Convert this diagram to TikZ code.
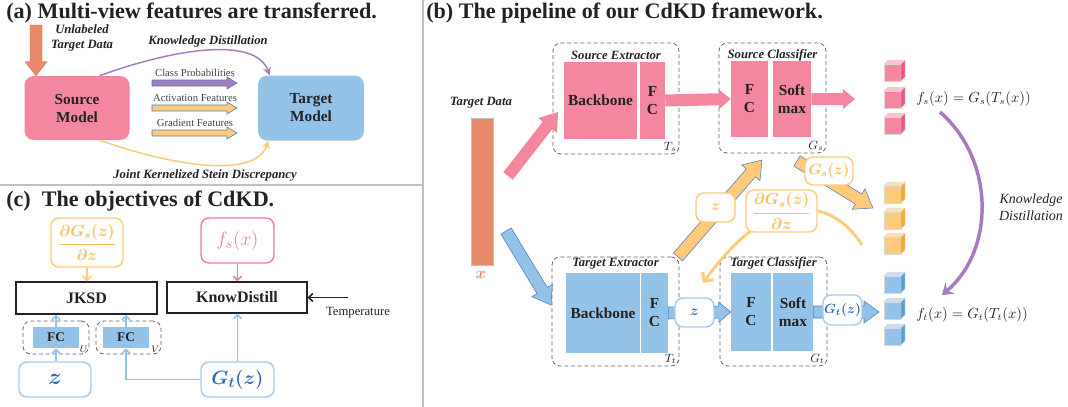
\documentclass[tikz,border=0pt]{standalone}
\usepackage{amsmath}
\usepackage{fontspec}
\setmainfont{Liberation Serif}
\usetikzlibrary{arrows.meta,positioning,calc}
\definecolor{cdpink}{HTML}{F4879F}
\definecolor{cdpinkline}{HTML}{F07C98}
\definecolor{cdpinktop}{HTML}{FAC3CF}
\definecolor{cdpinkside}{HTML}{E95A7E}
\definecolor{cdblue}{HTML}{94C3E9}
\definecolor{cdblueline}{HTML}{A6CCEE}
\definecolor{cdbluetop}{HTML}{C6E0F5}
\definecolor{cdblueside}{HTML}{5B9FD8}
\definecolor{cdbluetext}{HTML}{2F6DB3}
\definecolor{cdorange}{HTML}{E8896A}
\definecolor{cdyellow}{HTML}{FFCA7A}
\definecolor{cdyellowtop}{HTML}{FFE1AE}
\definecolor{cdyellowside}{HTML}{F5A936}
\definecolor{cdyellowline}{HTML}{FFCB7D}
\definecolor{cdyellowtext}{HTML}{FBBE5E}
\definecolor{cdpurple}{HTML}{A57BBF}
\definecolor{cdedge}{HTML}{4A7EBB}
\definecolor{cdtext}{HTML}{222222}
\definecolor{cdgray}{HTML}{666666}
\definecolor{cdframe}{HTML}{C0C0C0}

% block arrow: [style]{from}{to}{shaft half width}{head half width}{head length}, sizes in px
\newcommand{\blockarrow}[6][]{%
  \pgfmathsetmacro\baS{#4*0.75}%
  \pgfmathsetmacro\baH{#5*0.75}%
  \pgfmathsetmacro\baL{#6*0.75}%
  \coordinate (ba-a) at (#2);
  \coordinate (ba-b) at (#3);
  \coordinate (ba-h) at ($(ba-b)!\baL pt!(ba-a)$);
  \filldraw[#1] ($(ba-a)!\baS pt!90:(ba-b)$) -- ($(ba-h)!\baS pt!90:(ba-b)$)
    -- ($(ba-h)!\baH pt!90:(ba-b)$) -- (ba-b)
    -- ($(ba-h)!\baH pt!-90:(ba-b)$) -- ($(ba-h)!\baS pt!-90:(ba-b)$)
    -- ($(ba-a)!\baS pt!-90:(ba-b)$) -- cycle;
}

\begin{document}
\begin{tikzpicture}[x=0.75pt, y=-0.75pt,
  paneltitle/.style={anchor=west, inner sep=0, text=cdtext, font=\bfseries\fontsize{16.6}{19}\selectfont},
  wh/.style 2 args={minimum width={#1*0.75pt}, minimum height={#2*0.75pt}},
  model/.style={rounded corners=7pt, inner sep=0, align=center, text=cdtext, font=\bfseries\fontsize{11.5}{13.5}\selectfont},
  boxlabel/.style={inner sep=0, align=center, text=cdtext, font=\bfseries\itshape\fontsize{9.5}{11.5}\selectfont},
  featlabel/.style={inner sep=0, text=cdtext!85, font=\fontsize{8}{9}\selectfont},
  layer/.style={inner sep=0, align=center, text=cdtext, font=\bfseries\fontsize{11.5}{13.5}\selectfont},
  dashbox/.style={draw=cdgray, dash pattern=on 3pt off 2pt, line width=0.6pt, rounded corners=6pt, inner sep=0},
  tag/.style={inner sep=0, text=cdtext, font=\fontsize{9}{10}\selectfont},
  lossbox/.style={draw=cdtext, line width=1pt, inner sep=0, text=cdtext, font=\bfseries\fontsize{12}{14}\selectfont},
  termbox/.style={rounded corners=6pt, line width=1.1pt, fill=white, inner sep=0, align=center},
  thinarr/.style={line width=1.2pt, -{Straight Barb[length=3pt,width=6pt]}},
  parrow/.style={fill=cdpink, draw=none},
  barrow/.style={fill=cdblue, draw=cdedge, line width=0.4pt},
  yarrow/.style={fill=cdyellow, draw=cdedge, line width=0.4pt},
]
\useasboundingbox (0,0) rectangle (1068,407);

% panel frames
\draw[cdframe, line width=0.8pt] (423,0) -- (423,407);
\draw[cdframe, line width=0.8pt] (0,185) -- (423,185);

%% (a) multi-view transfer
\node[paneltitle] (titleA) at (6,13) {(a) Multi-view features are transferred.};
\node[model, wh={105}{64}, fill=cdpink] (srcModel) at (77,108) {Source\\Model};
\node[model, wh={106}{65}, fill=cdblue] (tgtModel) at (311,108) {Target\\Model};
\node[boxlabel] (unlabeled) at (82,38) {Unlabeled\\Target Data};
\coordinate (dataIn) at (36,25);
\blockarrow[fill=cdorange, draw=cdorange!85!black, line width=0.3pt]{dataIn}{srcModel.north -| dataIn}{6}{11}{14}

\draw[cdpurple, line width=1.1pt, -{Stealth[length=6pt,width=6pt,inset=2pt]}]
  ([xshift=17pt]srcModel.north) .. controls (170,50) and (255,35) .. ([xshift=-31pt]tgtModel.north);
\node[boxlabel] (kdLabel) at (208,41) {Knowledge Distillation};

\foreach \fy/\ftxt/\fcol [count=\i] in {83/Class Probabilities/cdpurple, 108/Activation Features/cdyellow, 133/Gradient Features/cdyellow}{
  \node[featlabel] (feat\i) at (195,\fy-10) {\ftxt};
  \coordinate (feat\i-a) at (152,\fy);
  \coordinate (feat\i-b) at (237,\fy);
  \blockarrow[fill=\fcol, draw=cdedge, line width=0.4pt]{feat\i-a}{feat\i-b}{3}{6}{10}
}

\draw[cdyellow, line width=1.1pt, -{Stealth[length=6pt,width=6pt,inset=2pt]}]
  ([xshift=17pt]srcModel.south) .. controls (170,165) and (255,180) .. ([xshift=-32pt]tgtModel.south);
\node[boxlabel] (jksdLabel) at (205,175) {Joint Kernelized Stein Discrepancy};

%% (c) objectives
\node[paneltitle] (titleC) at (6,201) {(c)\ \ The objectives of CdKD.};
\node[termbox, draw=cdyellowline, wh={72}{49}, text=cdyellowtext, font=\fontsize{12}{14}\selectfont] (gradBox) at (87,242.5)
  {$\boldsymbol{\dfrac{\partial G_s(z)}{\partial z}}$};
\node[termbox, draw=cdpinkline, wh={73}{45}, text=cdpinkline, font=\fontsize{15}{17}\selectfont] (fsBox) at (237.5,240.5) {$f_s(x)$};
\node[lossbox, wh={141}{32}] (jksd) at (86.5,298) {JKSD};
\node[lossbox, wh={140}{31}] (kdBox) at (237,297.5) {KnowDistill};
\coordinate (tempIn) at (348,297.5);
\node[tag, font=\fontsize{9.5}{11}\selectfont] (tempLabel) at (358,313) {Temperature};

\node[dashbox, wh={66}{33}] (fcU) at (56,337.5) {};
\node[layer, fill=cdblue, wh={46}{21}, font=\bfseries\fontsize{10}{12}\selectfont] (fcUin) at (56,337.5) {FC};
\node[tag, anchor=south east, font=\fontsize{7}{8}\selectfont] at ([xshift=-1pt,yshift=1.5pt]fcU.south east) {$U$};
\node[dashbox, wh={65}{33}] (fcV) at (128.5,337.5) {};
\node[layer, fill=cdblue, wh={46}{21}, font=\bfseries\fontsize{10}{12}\selectfont] (fcVin) at (126,337.5) {FC};
\node[tag, anchor=south east, font=\fontsize{7}{8}\selectfont] at ([xshift=-1pt,yshift=1.5pt]fcV.south east) {$V$};

\node[termbox, draw=cdblueline, wh={72}{35}, text=cdbluetext, font=\fontsize{16}{18}\selectfont] (zBox) at (55,379.5) {$\boldsymbol{z}$};
\node[termbox, draw=cdblueline, wh={73}{35}, text=cdbluetext, font=\fontsize{15}{17}\selectfont] (gtBox) at (237.5,379.5) {$\boldsymbol{G_t(z)}$};

\draw[thinarr, cdyellowline] (gradBox.south) -- (gradBox.south |- jksd.north);
\draw[thinarr, cdpinkline] (fsBox.south) -- (fsBox.south |- kdBox.north);
\draw[thinarr, cdtext] (tempIn) -- (kdBox.east);
\draw[thinarr, cdblue] (zBox.north -| fcUin) -- (fcUin.south);
\draw[thinarr, cdblue] (fcUin.north) -- (fcUin.north |- jksd.south);
\draw[thinarr, cdblue] (gtBox.west) -| (fcVin.south);
\draw[thinarr, cdblue] (fcVin.north) -- (fcVin.north |- jksd.south);
\draw[thinarr, cdblue] (gtBox.north) -- (gtBox.north |- kdBox.south);

%% (b) pipeline
\node[paneltitle] (titleB) at (426,13) {(b) The pipeline of our CdKD framework.};
\node[boxlabel] (dataLabel) at (481,103) {Target Data};
\node[fill=cdorange, draw=black!25, line width=0.3pt, inner sep=0, wh={22}{147}] (xBar) at (482,191.5) {};
\node[inner sep=0, text=cdorange, font=\bfseries\fontsize{12}{14}\selectfont] (xLabel) at (481,275) {$\boldsymbol{x}$};

% source branch
\node[dashbox, wh={126}{111}] (srcExt) at (616,98.5) {};
\node[boxlabel] at (616,55) {Source Extractor};
\node[layer, fill=cdpink, wh={73}{77}] (backboneS) at (600.5,100.5) {Backbone};
\node[layer, fill=cdpink, wh={25}{77}] (fcS) at (652.5,100.5) {F\\C};
\node[tag, anchor=south east] at ([xshift=-2pt,yshift=2pt]srcExt.south east) {$T_s$};

\node[dashbox, wh={107}{110}] (srcCls) at (772.5,98) {};
\node[boxlabel] at (772.5,55) {Source Classifier};
\node[layer, fill=cdpink, wh={37}{76}] (fcSc) at (749.5,99) {F\\C};
\node[layer, fill=cdpink, wh={38}{76}] (smS) at (792,99) {Soft\\max};
\node[tag, anchor=south east] at ([xshift=-2pt,yshift=2pt]srcCls.south east) {$G_s$};

% target branch
\node[dashbox, wh={127}{109}] (tgtExt) at (615.5,311.5) {};
\node[boxlabel] at (615.5,264) {Target Extractor};
\node[layer, fill=cdblue, wh={74}{80}] (backboneT) at (603,313) {Backbone};
\node[layer, fill=cdblue, wh={27}{80}] (fcT) at (654.5,313) {F\\C};
\node[tag, anchor=south east] at ([xshift=-2pt,yshift=2pt]tgtExt.south east) {$T_t$};

\node[dashbox, wh={107}{109}] (tgtCls) at (773.5,311.5) {};
\node[boxlabel] at (773.5,263) {Target Classifier};
\node[layer, fill=cdblue, wh={40}{78}] (fcTc) at (751,312) {F\\C};
\node[layer, fill=cdblue, wh={40}{78}] (smT) at (793,312) {Soft\\max};
\node[tag, anchor=south east] at ([xshift=-2pt,yshift=2pt]tgtCls.south east) {$G_t$};

% output cubes
\foreach \cy/\cf/\ct/\cs in {60/cdpink/cdpinktop/cdpinkside, 87/cdpink/cdpinktop/cdpinkside, 113/cdpink/cdpinktop/cdpinkside,
    182/cdyellow/cdyellowtop/cdyellowside, 208/cdyellow/cdyellowtop/cdyellowside, 233/cdyellow/cdyellowtop/cdyellowside,
    272/cdblue/cdbluetop/cdblueside, 298/cdblue/cdbluetop/cdblueside, 324/cdblue/cdbluetop/cdblueside}{
  \filldraw[fill=\cf, draw=black!15, line width=0.3pt] (884,\cy+4) rectangle (901,\cy+21);
  \filldraw[fill=\ct, draw=black!15, line width=0.3pt] (884,\cy+4) -- (888,\cy) -- (905,\cy) -- (901,\cy+4) -- cycle;
  \filldraw[fill=\cs, draw=black!15, line width=0.3pt] (901,\cy+4) -- (905,\cy) -- (905,\cy+17) -- (901,\cy+21) -- cycle;
}
\node[anchor=west, inner sep=0, text=cdtext, font=\fontsize{10.5}{13}\selectfont] (fsEq) at (916,99) {$f_s(x)=G_s(T_s(x))$};
\node[anchor=west, inner sep=0, text=cdtext, font=\fontsize{10.5}{13}\selectfont] (ftEq) at (916,315) {$f_t(x)=G_t(T_t(x))$};

% flows
\coordinate (pinkFrom) at (508,176);
\coordinate (pinkTo) at (558,112);
\coordinate (pinkCube) at (855,99);
\coordinate (blueFrom) at (506,231);
\coordinate (blueTo) at (551,305);
\coordinate (blueCube) at (879,312);
\blockarrow[parrow]{pinkFrom}{pinkTo}{6}{12}{17}
\blockarrow[parrow]{fcS.east}{fcSc.west}{6}{10}{12}
\blockarrow[parrow]{smS.east}{pinkCube}{6}{10}{12}
\blockarrow[barrow]{blueFrom}{blueTo}{6}{12}{17}
\blockarrow[barrow]{fcT.east}{fcTc.west}{6}{10}{12}
\blockarrow[barrow]{smT.east}{blueCube}{6}{11}{15}

\coordinate (zUpFrom) at (678,257);
\coordinate (zUpTo) at (762,160);
\coordinate (gsFrom) at (797,161);
\coordinate (gsTo) at (873,208);
\blockarrow[yarrow]{zUpFrom}{zUpTo}{6}{12}{17}
\blockarrow[yarrow]{gsFrom}{gsTo}{6}{12}{17}

\coordinate (gradFrom) at (862,245);
\coordinate (gradTo) at (703,283);
\draw[cdyellowline, line width=2.2pt, -{Straight Barb[length=5pt,width=10pt]}]
  (gradFrom) .. controls (830,195) and (770,190) .. (gradTo);

% knowledge distillation between outputs
\coordinate (kdFrom) at (940,112);
\coordinate (kdTo) at (942,295);
\draw[cdpurple, line width=2.6pt, -{Stealth[length=8pt,width=11pt,inset=3pt]}]
  (kdFrom) .. controls (995,160) and (995,250) .. (kdTo);
\node[inner sep=0, align=center, text=cdtext, font=\itshape\fontsize{10.5}{13}\selectfont] (kdText) at (1031,207) {Knowledge\\Distillation};

% features carried on the arrows
\node[termbox, draw=cdblueline, wh={39}{29}, text=cdbluetext, font=\fontsize{11}{13}\selectfont] (zMid) at (694.5,312.5) {$\boldsymbol{z}$};
\node[termbox, draw=cdblueline, wh={39}{30}, text=cdbluetext, font=\fontsize{10}{12}\selectfont] (gtMid) at (842.5,310) {$\boldsymbol{G_t(z)}$};
\node[termbox, draw=cdyellowline, wh={39}{29}, text=cdyellowtext, font=\fontsize{11}{13}\selectfont] (zUp) at (715.5,207.5) {$\boldsymbol{z}$};
\node[termbox, draw=cdyellowline, wh={48}{28}, text=cdyellowtext, font=\fontsize{10.5}{12}\selectfont] (gsUp) at (829,171) {$\boldsymbol{G_s(z)}$};
\node[termbox, draw=cdyellowline, wh={71}{42}, text=cdyellowtext, font=\fontsize{12}{14}\selectfont] (dGrad) at (781.5,211)
  {$\boldsymbol{\dfrac{\partial G_s(z)}{\partial z}}$};
\end{tikzpicture}
\end{document}
